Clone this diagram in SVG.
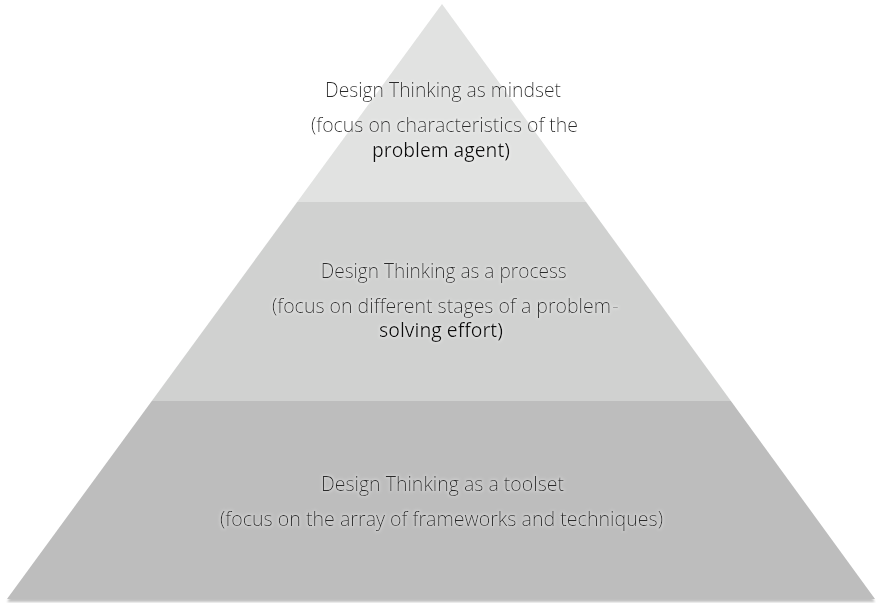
<svg xmlns="http://www.w3.org/2000/svg" width="876" height="603" viewBox="0 0 876 603">
  <defs>
    <filter id="shadow" x="-5%" y="-5%" width="110%" height="110%">
      <feGaussianBlur in="SourceAlpha" stdDeviation="1.2"/>
      <feOffset dx="0" dy="2.5" result="b"/>
      <feComponentTransfer><feFuncA type="linear" slope="0.25"/></feComponentTransfer>
      <feMerge><feMergeNode/><feMergeNode in="SourceGraphic"/></feMerge>
    </filter>
    <filter id="glow" x="-10%" y="-30%" width="120%" height="160%">
      <feMorphology in="SourceAlpha" operator="dilate" radius="1" result="d"/>
      <feGaussianBlur in="d" stdDeviation="1.5" result="g"/>
      <feFlood flood-color="#ffffff" flood-opacity="0.3"/>
      <feComposite in2="g" operator="in"/>
      <feMerge><feMergeNode/><feMergeNode in="SourceGraphic"/></feMerge>
    </filter>
  </defs>
  <style>
    .lt { font-family: "Open Sans", "Liberation Sans", sans-serif; font-weight: 300; font-size: 19.5px; fill: #2a2a2a; text-anchor: middle; }
    .rg { font-family: "Open Sans", "Liberation Sans", sans-serif; font-weight: 400; font-size: 19.5px; fill: #111111; text-anchor: middle; }
    .hy { fill: #9a9a9a; }
  </style>
  <rect width="876" height="603" fill="#ffffff"/>
  <g id="pyramid" filter="url(#shadow)">
    <g id="band-top">
      <polygon points="442,4 297.2,202 586.1,202" fill="#e1e2e1"/>
    </g>
    <g id="band-middle">
      <polygon points="297.2,202 586.1,202 730.9,401 151.8,401" fill="#d0d1d0"/>
    </g>
    <g id="band-bottom">
      <polygon points="151.8,401 730.9,401 875,599 7,599" fill="#bdbdbd"/>
    </g>
  </g>
  <g id="connectors"/>
  <g id="labels" filter="url(#glow)">
    <g id="label-top">
      <text class="lt" x="443" y="97" textLength="236" lengthAdjust="spacingAndGlyphs">Design Thinking as mindset</text>
      <text class="lt" x="444.5" y="132" textLength="267" lengthAdjust="spacingAndGlyphs">(focus on characteristics of the</text>
      <text class="rg" x="441" y="157" textLength="138" lengthAdjust="spacingAndGlyphs">problem agent)</text>
    </g>
    <g id="label-middle">
      <text class="lt" x="443.7" y="278" textLength="246" lengthAdjust="spacingAndGlyphs">Design Thinking as a process</text>
      <text class="lt" x="441.5" y="313" textLength="339" lengthAdjust="spacingAndGlyphs">(focus on different stages of a problem</text>
      <text class="lt hy" x="615.5" y="313">-</text>
      <text class="rg" x="441" y="337" textLength="124" lengthAdjust="spacingAndGlyphs">solving effort)</text>
    </g>
    <g id="label-bottom">
      <text class="lt" x="442.5" y="491" textLength="243" lengthAdjust="spacingAndGlyphs">Design Thinking as a toolset</text>
      <text class="lt" x="441.5" y="526" textLength="443" lengthAdjust="spacingAndGlyphs">(focus on the array of frameworks and techniques)</text>
    </g>
  </g>
</svg>
